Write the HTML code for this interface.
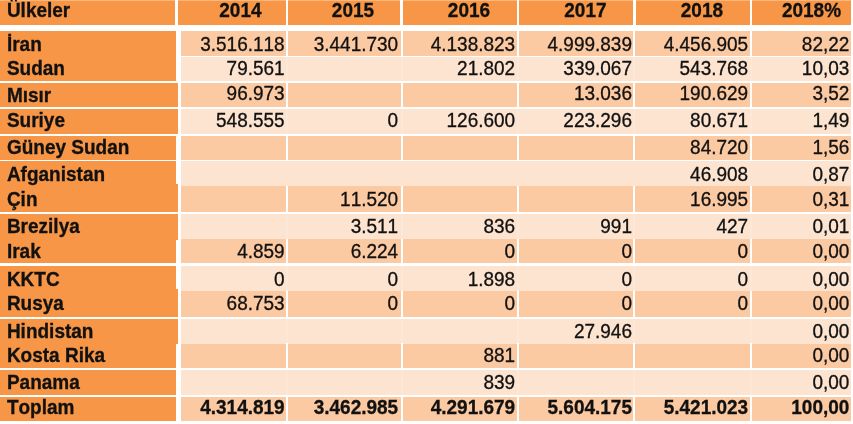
<!DOCTYPE html><html><head><meta charset="utf-8"><title>Ülkeler</title><style>
html,body{margin:0;padding:0;background:#fff}
body{width:853px;height:424px;position:relative;overflow:hidden;font-family:"Liberation Sans",Arial,sans-serif;color:#111}
.b{position:absolute}
.t{position:absolute;font-size:19px;line-height:20px;height:20px;white-space:nowrap;font-kerning:none;font-feature-settings:"kern" 0;-webkit-text-stroke:0.3px #111;transform:scaleY(1.045);transform-origin:0 15.8px}
.r{text-align:right}.c{text-align:center}.h{font-weight:bold}
</style></head><body>
<div class="b" style="left:0.00px;top:0.00px;width:175.40px;height:24.70px;background:#F79646"></div>
<div class="b" style="left:178.00px;top:0.00px;width:107.70px;height:24.70px;background:#F79646"></div>
<div class="b" style="left:288.00px;top:0.00px;width:112.30px;height:24.70px;background:#F79646"></div>
<div class="b" style="left:402.60px;top:0.00px;width:114.40px;height:24.70px;background:#F79646"></div>
<div class="b" style="left:519.00px;top:0.00px;width:113.80px;height:24.70px;background:#F79646"></div>
<div class="b" style="left:635.50px;top:0.00px;width:114.50px;height:24.70px;background:#F79646"></div>
<div class="b" style="left:752.00px;top:0.00px;width:98.80px;height:24.70px;background:#F79646"></div>
<div class="b" style="left:0.00px;top:0.00px;width:175.40px;height:0.80px;background:#FBB77C"></div>
<div class="b" style="left:178.00px;top:0.00px;width:107.70px;height:0.80px;background:#FBB77C"></div>
<div class="b" style="left:288.00px;top:0.00px;width:112.30px;height:0.80px;background:#FBB77C"></div>
<div class="b" style="left:402.60px;top:0.00px;width:114.40px;height:0.80px;background:#FBB77C"></div>
<div class="b" style="left:519.00px;top:0.00px;width:113.80px;height:0.80px;background:#FBB77C"></div>
<div class="b" style="left:635.50px;top:0.00px;width:114.50px;height:0.80px;background:#FBB77C"></div>
<div class="b" style="left:752.00px;top:0.00px;width:98.80px;height:0.80px;background:#FBB77C"></div>
<div class="b" style="left:180.60px;top:31.20px;width:670.60px;height:24.50px;background:#FBCAA2"></div>
<div class="b" style="left:180.60px;top:56.90px;width:670.60px;height:24.60px;background:#FDE4D0"></div>
<div class="b" style="left:180.60px;top:82.90px;width:670.60px;height:23.90px;background:#FBCAA2"></div>
<div class="b" style="left:180.60px;top:108.70px;width:670.60px;height:24.90px;background:#FDE4D0"></div>
<div class="b" style="left:180.60px;top:135.50px;width:670.60px;height:24.20px;background:#FBCAA2"></div>
<div class="b" style="left:180.60px;top:161.40px;width:670.60px;height:24.70px;background:#FDE4D0"></div>
<div class="b" style="left:180.60px;top:186.10px;width:670.60px;height:25.70px;background:#FBCAA2"></div>
<div class="b" style="left:180.60px;top:213.60px;width:670.60px;height:25.70px;background:#FDE4D0"></div>
<div class="b" style="left:180.60px;top:239.30px;width:670.60px;height:24.20px;background:#FBCAA2"></div>
<div class="b" style="left:180.60px;top:265.60px;width:670.60px;height:25.60px;background:#FDE4D0"></div>
<div class="b" style="left:180.60px;top:291.20px;width:670.60px;height:25.60px;background:#FBCAA2"></div>
<div class="b" style="left:180.60px;top:319.00px;width:670.60px;height:24.60px;background:#FDE4D0"></div>
<div class="b" style="left:180.60px;top:343.60px;width:670.60px;height:24.70px;background:#FBCAA2"></div>
<div class="b" style="left:180.60px;top:370.20px;width:670.60px;height:24.80px;background:#FDE4D0"></div>
<div class="b" style="left:180.60px;top:397.30px;width:670.60px;height:23.30px;background:#FBCAA2"></div>
<div class="b" style="left:286.20px;top:30.70px;width:1.80px;height:25.50px;background:#fff"></div>
<div class="b" style="left:400.50px;top:30.70px;width:2.00px;height:25.50px;background:#fff"></div>
<div class="b" style="left:517.00px;top:30.70px;width:2.00px;height:25.50px;background:#fff"></div>
<div class="b" style="left:633.00px;top:30.70px;width:2.40px;height:25.50px;background:#fff"></div>
<div class="b" style="left:750.00px;top:30.70px;width:2.00px;height:25.50px;background:#fff"></div>
<div class="b" style="left:286.20px;top:56.40px;width:1.80px;height:25.60px;background:rgba(255,255,255,0.13)"></div>
<div class="b" style="left:400.50px;top:56.40px;width:2.00px;height:25.60px;background:rgba(255,255,255,0.13)"></div>
<div class="b" style="left:517.00px;top:56.40px;width:2.00px;height:25.60px;background:rgba(255,255,255,0.13)"></div>
<div class="b" style="left:633.00px;top:56.40px;width:2.40px;height:25.60px;background:rgba(255,255,255,0.13)"></div>
<div class="b" style="left:750.00px;top:56.40px;width:2.00px;height:25.60px;background:rgba(255,255,255,0.13)"></div>
<div class="b" style="left:286.20px;top:82.40px;width:1.80px;height:24.90px;background:#fff"></div>
<div class="b" style="left:400.50px;top:82.40px;width:2.00px;height:24.90px;background:#fff"></div>
<div class="b" style="left:517.00px;top:82.40px;width:2.00px;height:24.90px;background:#fff"></div>
<div class="b" style="left:633.00px;top:82.40px;width:2.40px;height:24.90px;background:#fff"></div>
<div class="b" style="left:750.00px;top:82.40px;width:2.00px;height:24.90px;background:#fff"></div>
<div class="b" style="left:286.20px;top:108.20px;width:1.80px;height:25.90px;background:rgba(255,255,255,0.13)"></div>
<div class="b" style="left:400.50px;top:108.20px;width:2.00px;height:25.90px;background:rgba(255,255,255,0.13)"></div>
<div class="b" style="left:517.00px;top:108.20px;width:2.00px;height:25.90px;background:rgba(255,255,255,0.13)"></div>
<div class="b" style="left:633.00px;top:108.20px;width:2.40px;height:25.90px;background:rgba(255,255,255,0.13)"></div>
<div class="b" style="left:750.00px;top:108.20px;width:2.00px;height:25.90px;background:rgba(255,255,255,0.13)"></div>
<div class="b" style="left:286.20px;top:135.00px;width:1.80px;height:25.20px;background:#fff"></div>
<div class="b" style="left:400.50px;top:135.00px;width:2.00px;height:25.20px;background:#fff"></div>
<div class="b" style="left:517.00px;top:135.00px;width:2.00px;height:25.20px;background:#fff"></div>
<div class="b" style="left:633.00px;top:135.00px;width:2.40px;height:25.20px;background:#fff"></div>
<div class="b" style="left:750.00px;top:135.00px;width:2.00px;height:25.20px;background:#fff"></div>
<div class="b" style="left:286.20px;top:185.60px;width:1.80px;height:26.70px;background:#fff"></div>
<div class="b" style="left:400.50px;top:185.60px;width:2.00px;height:26.70px;background:#fff"></div>
<div class="b" style="left:517.00px;top:185.60px;width:2.00px;height:26.70px;background:#fff"></div>
<div class="b" style="left:633.00px;top:185.60px;width:2.40px;height:26.70px;background:#fff"></div>
<div class="b" style="left:750.00px;top:185.60px;width:2.00px;height:26.70px;background:#fff"></div>
<div class="b" style="left:286.20px;top:213.10px;width:1.80px;height:26.70px;background:rgba(255,255,255,0.13)"></div>
<div class="b" style="left:400.50px;top:213.10px;width:2.00px;height:26.70px;background:rgba(255,255,255,0.13)"></div>
<div class="b" style="left:517.00px;top:213.10px;width:2.00px;height:26.70px;background:rgba(255,255,255,0.13)"></div>
<div class="b" style="left:633.00px;top:213.10px;width:2.40px;height:26.70px;background:rgba(255,255,255,0.13)"></div>
<div class="b" style="left:750.00px;top:213.10px;width:2.00px;height:26.70px;background:rgba(255,255,255,0.13)"></div>
<div class="b" style="left:286.20px;top:238.80px;width:1.80px;height:25.20px;background:#fff"></div>
<div class="b" style="left:400.50px;top:238.80px;width:2.00px;height:25.20px;background:#fff"></div>
<div class="b" style="left:517.00px;top:238.80px;width:2.00px;height:25.20px;background:#fff"></div>
<div class="b" style="left:633.00px;top:238.80px;width:2.40px;height:25.20px;background:#fff"></div>
<div class="b" style="left:750.00px;top:238.80px;width:2.00px;height:25.20px;background:#fff"></div>
<div class="b" style="left:286.20px;top:265.10px;width:1.80px;height:26.60px;background:rgba(255,255,255,0.13)"></div>
<div class="b" style="left:400.50px;top:265.10px;width:2.00px;height:26.60px;background:rgba(255,255,255,0.13)"></div>
<div class="b" style="left:517.00px;top:265.10px;width:2.00px;height:26.60px;background:rgba(255,255,255,0.13)"></div>
<div class="b" style="left:633.00px;top:265.10px;width:2.40px;height:26.60px;background:rgba(255,255,255,0.13)"></div>
<div class="b" style="left:750.00px;top:265.10px;width:2.00px;height:26.60px;background:rgba(255,255,255,0.13)"></div>
<div class="b" style="left:286.20px;top:290.70px;width:1.80px;height:26.60px;background:#fff"></div>
<div class="b" style="left:400.50px;top:290.70px;width:2.00px;height:26.60px;background:#fff"></div>
<div class="b" style="left:517.00px;top:290.70px;width:2.00px;height:26.60px;background:#fff"></div>
<div class="b" style="left:633.00px;top:290.70px;width:2.40px;height:26.60px;background:#fff"></div>
<div class="b" style="left:750.00px;top:290.70px;width:2.00px;height:26.60px;background:#fff"></div>
<div class="b" style="left:286.20px;top:318.50px;width:1.80px;height:25.60px;background:rgba(255,255,255,0.13)"></div>
<div class="b" style="left:400.50px;top:318.50px;width:2.00px;height:25.60px;background:rgba(255,255,255,0.13)"></div>
<div class="b" style="left:517.00px;top:318.50px;width:2.00px;height:25.60px;background:rgba(255,255,255,0.13)"></div>
<div class="b" style="left:633.00px;top:318.50px;width:2.40px;height:25.60px;background:rgba(255,255,255,0.13)"></div>
<div class="b" style="left:750.00px;top:318.50px;width:2.00px;height:25.60px;background:rgba(255,255,255,0.13)"></div>
<div class="b" style="left:286.20px;top:343.10px;width:1.80px;height:25.70px;background:#fff"></div>
<div class="b" style="left:400.50px;top:343.10px;width:2.00px;height:25.70px;background:#fff"></div>
<div class="b" style="left:517.00px;top:343.10px;width:2.00px;height:25.70px;background:#fff"></div>
<div class="b" style="left:633.00px;top:343.10px;width:2.40px;height:25.70px;background:#fff"></div>
<div class="b" style="left:750.00px;top:343.10px;width:2.00px;height:25.70px;background:#fff"></div>
<div class="b" style="left:286.20px;top:369.70px;width:1.80px;height:25.80px;background:rgba(255,255,255,0.13)"></div>
<div class="b" style="left:400.50px;top:369.70px;width:2.00px;height:25.80px;background:rgba(255,255,255,0.13)"></div>
<div class="b" style="left:517.00px;top:369.70px;width:2.00px;height:25.80px;background:rgba(255,255,255,0.13)"></div>
<div class="b" style="left:633.00px;top:369.70px;width:2.40px;height:25.80px;background:rgba(255,255,255,0.13)"></div>
<div class="b" style="left:750.00px;top:369.70px;width:2.00px;height:25.80px;background:rgba(255,255,255,0.13)"></div>
<div class="b" style="left:286.20px;top:396.80px;width:1.80px;height:24.30px;background:#fff"></div>
<div class="b" style="left:400.50px;top:396.80px;width:2.00px;height:24.30px;background:#fff"></div>
<div class="b" style="left:517.00px;top:396.80px;width:2.00px;height:24.30px;background:#fff"></div>
<div class="b" style="left:633.00px;top:396.80px;width:2.40px;height:24.30px;background:#fff"></div>
<div class="b" style="left:750.00px;top:396.80px;width:2.00px;height:24.30px;background:#fff"></div>
<div class="b" style="left:0.00px;top:31.20px;width:176.00px;height:26.00px;background:#F79646"></div>
<div class="b" style="left:0.00px;top:56.90px;width:176.00px;height:24.60px;background:#F79646"></div>
<div class="b" style="left:0.00px;top:82.90px;width:177.75px;height:23.90px;background:#F79646"></div>
<div class="b" style="left:0.00px;top:108.70px;width:177.75px;height:24.90px;background:#F79646"></div>
<div class="b" style="left:0.00px;top:135.50px;width:176.00px;height:24.20px;background:#F79646"></div>
<div class="b" style="left:0.00px;top:161.40px;width:176.00px;height:22.35px;background:#F79646"></div>
<div class="b" style="left:0.00px;top:183.75px;width:177.75px;height:2.65px;background:#F79646"></div>
<div class="b" style="left:0.00px;top:186.10px;width:177.75px;height:25.70px;background:#F79646"></div>
<div class="b" style="left:0.00px;top:213.60px;width:177.75px;height:26.00px;background:#F79646"></div>
<div class="b" style="left:0.00px;top:239.30px;width:176.00px;height:24.20px;background:#F79646"></div>
<div class="b" style="left:0.00px;top:265.60px;width:176.00px;height:23.15px;background:#F79646"></div>
<div class="b" style="left:0.00px;top:288.75px;width:177.75px;height:2.75px;background:#F79646"></div>
<div class="b" style="left:0.00px;top:291.20px;width:177.75px;height:25.60px;background:#F79646"></div>
<div class="b" style="left:0.00px;top:319.00px;width:177.75px;height:24.90px;background:#F79646"></div>
<div class="b" style="left:0.00px;top:343.60px;width:176.00px;height:24.70px;background:#F79646"></div>
<div class="b" style="left:0.00px;top:370.20px;width:176.00px;height:24.80px;background:#F79646"></div>
<div class="b" style="left:0.00px;top:397.30px;width:176.00px;height:23.30px;background:#F79646"></div>
<div class="t h" style="left:6.9px;top:0.62px">Ülkeler</div>
<div class="t h c" style="left:190.40px;width:100px;top:0.82px">2014</div>
<div class="t h c" style="left:303.00px;width:100px;top:0.82px">2015</div>
<div class="t h c" style="left:419.00px;width:100px;top:0.82px">2016</div>
<div class="t h c" style="left:535.40px;width:100px;top:0.82px">2017</div>
<div class="t h c" style="left:651.90px;width:100px;top:0.82px">2018</div>
<div class="t h c" style="left:761.50px;width:100px;top:0.82px">2018%</div>
<div class="t h" style="left:6.9px;top:34.82px">İran</div>
<div class="t r" style="left:134.70px;width:150px;top:34.82px">3.516.118</div>
<div class="t r" style="left:248.20px;width:150px;top:34.82px">3.441.730</div>
<div class="t r" style="left:365.20px;width:150px;top:34.82px">4.138.823</div>
<div class="t r" style="left:482.00px;width:150px;top:34.82px">4.999.839</div>
<div class="t r" style="left:598.20px;width:150px;top:34.82px">4.456.905</div>
<div class="t r" style="left:699.40px;width:150px;top:34.82px">82,22</div>
<div class="t h" style="left:6.9px;top:59.47px">Sudan</div>
<div class="t r" style="left:134.70px;width:150px;top:59.47px">79.561</div>
<div class="t r" style="left:365.20px;width:150px;top:59.47px">21.802</div>
<div class="t r" style="left:482.00px;width:150px;top:59.47px">339.067</div>
<div class="t r" style="left:598.20px;width:150px;top:59.47px">543.768</div>
<div class="t r" style="left:699.40px;width:150px;top:59.47px">10,03</div>
<div class="t h" style="left:6.9px;top:85.92px">Mısır</div>
<div class="t r" style="left:134.70px;width:150px;top:84.42px">96.973</div>
<div class="t r" style="left:482.00px;width:150px;top:84.42px">13.036</div>
<div class="t r" style="left:598.20px;width:150px;top:84.42px">190.629</div>
<div class="t r" style="left:699.40px;width:150px;top:84.42px">3,52</div>
<div class="t h" style="left:6.9px;top:111.47px">Suriye</div>
<div class="t r" style="left:134.70px;width:150px;top:111.47px">548.555</div>
<div class="t r" style="left:248.20px;width:150px;top:111.47px">0</div>
<div class="t r" style="left:365.20px;width:150px;top:111.47px">126.600</div>
<div class="t r" style="left:482.00px;width:150px;top:111.47px">223.296</div>
<div class="t r" style="left:598.20px;width:150px;top:111.47px">80.671</div>
<div class="t r" style="left:699.40px;width:150px;top:111.47px">1,49</div>
<div class="t h" style="left:6.9px;top:137.72px">Güney Sudan</div>
<div class="t r" style="left:598.20px;width:150px;top:137.72px">84.720</div>
<div class="t r" style="left:699.40px;width:150px;top:137.72px">1,56</div>
<div class="t h" style="left:6.9px;top:164.62px">Afganistan</div>
<div class="t r" style="left:598.20px;width:150px;top:164.62px">46.908</div>
<div class="t r" style="left:699.40px;width:150px;top:164.62px">0,87</div>
<div class="t h" style="left:6.9px;top:189.97px">Çin</div>
<div class="t r" style="left:248.20px;width:150px;top:189.97px">11.520</div>
<div class="t r" style="left:598.20px;width:150px;top:189.97px">16.995</div>
<div class="t r" style="left:699.40px;width:150px;top:189.97px">0,31</div>
<div class="t h" style="left:6.9px;top:217.22px">Brezilya</div>
<div class="t r" style="left:248.20px;width:150px;top:217.22px">3.511</div>
<div class="t r" style="left:365.20px;width:150px;top:217.22px">836</div>
<div class="t r" style="left:482.00px;width:150px;top:217.22px">991</div>
<div class="t r" style="left:598.20px;width:150px;top:217.22px">427</div>
<div class="t r" style="left:699.40px;width:150px;top:217.22px">0,01</div>
<div class="t h" style="left:6.9px;top:242.22px">Irak</div>
<div class="t r" style="left:134.70px;width:150px;top:242.22px">4.859</div>
<div class="t r" style="left:248.20px;width:150px;top:242.22px">6.224</div>
<div class="t r" style="left:365.20px;width:150px;top:242.22px">0</div>
<div class="t r" style="left:482.00px;width:150px;top:242.22px">0</div>
<div class="t r" style="left:598.20px;width:150px;top:242.22px">0</div>
<div class="t r" style="left:699.40px;width:150px;top:242.22px">0,00</div>
<div class="t h" style="left:6.9px;top:269.62px">KKTC</div>
<div class="t r" style="left:134.70px;width:150px;top:269.62px">0</div>
<div class="t r" style="left:248.20px;width:150px;top:269.62px">0</div>
<div class="t r" style="left:365.20px;width:150px;top:269.62px">1.898</div>
<div class="t r" style="left:482.00px;width:150px;top:269.62px">0</div>
<div class="t r" style="left:598.20px;width:150px;top:269.62px">0</div>
<div class="t r" style="left:699.40px;width:150px;top:269.62px">0,00</div>
<div class="t h" style="left:6.9px;top:294.22px">Rusya</div>
<div class="t r" style="left:134.70px;width:150px;top:294.22px">68.753</div>
<div class="t r" style="left:248.20px;width:150px;top:294.22px">0</div>
<div class="t r" style="left:365.20px;width:150px;top:294.22px">0</div>
<div class="t r" style="left:482.00px;width:150px;top:294.22px">0</div>
<div class="t r" style="left:598.20px;width:150px;top:294.22px">0</div>
<div class="t r" style="left:699.40px;width:150px;top:294.22px">0,00</div>
<div class="t h" style="left:6.9px;top:321.82px">Hindistan</div>
<div class="t r" style="left:482.00px;width:150px;top:321.82px">27.946</div>
<div class="t r" style="left:699.40px;width:150px;top:321.82px">0,00</div>
<div class="t h" style="left:6.9px;top:346.22px">Kosta Rika</div>
<div class="t r" style="left:365.20px;width:150px;top:346.22px">881</div>
<div class="t r" style="left:699.40px;width:150px;top:346.22px">0,00</div>
<div class="t h" style="left:6.9px;top:372.82px">Panama</div>
<div class="t r" style="left:365.20px;width:150px;top:372.82px">839</div>
<div class="t r" style="left:699.40px;width:150px;top:372.82px">0,00</div>
<div class="t h" style="left:6.9px;top:398.22px">Toplam</div>
<div class="t r h" style="left:134.70px;width:150px;top:398.22px">4.314.819</div>
<div class="t r h" style="left:248.20px;width:150px;top:398.22px">3.462.985</div>
<div class="t r h" style="left:365.20px;width:150px;top:398.22px">4.291.679</div>
<div class="t r h" style="left:482.00px;width:150px;top:398.22px">5.604.175</div>
<div class="t r h" style="left:598.20px;width:150px;top:398.22px">5.421.023</div>
<div class="t r h" style="left:699.40px;width:150px;top:398.22px">100,00</div>
</body></html>
